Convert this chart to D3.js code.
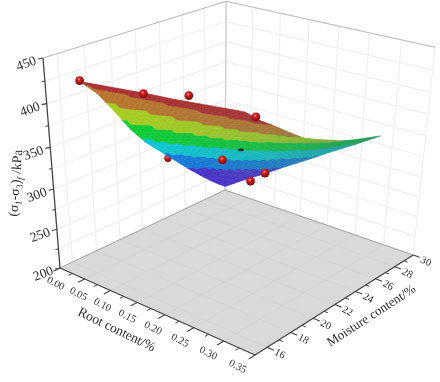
<!DOCTYPE html>
<html>
<head>
<meta charset="utf-8">
<script src="https://cdn.jsdelivr.net/npm/d3@7"></script>
<style>
    body { margin: 0; background: #fff; }
    svg { display: block; filter: blur(0.55px); }
    text { font-family: "Liberation Serif", serif; fill: #2c2c2c; }
</style>
</head>
<body>
<div id="chart"></div>
<script>
// Surface grid
let rootContent = [0, 0.04, 0.08, 0.12, 0.16, 0.20, 0.24, 0.28];
let moistureContent = [17.5, 18.75, 20, 21.25, 22.5, 23.75, 25, 26.25, 27.5, 28.75, 30];
let strength = [
    [412, 392, 365, 336, 312, 293, 274, 255, 237, 220, 205],
    [415, 395, 370, 344, 321, 304, 286, 269, 252, 237, 224],
    [418, 399, 376, 351, 330, 314, 298, 282, 268, 254, 242],
    [421, 402, 381, 359, 339, 325, 310, 296, 283, 271, 261],
    [423, 406, 387, 366, 349, 335, 323, 310, 299, 289, 279],
    [426, 409, 392, 374, 358, 346, 335, 324, 314, 306, 298],
    [429, 413, 398, 381, 367, 356, 347, 337, 330, 323, 316],
    [432, 416, 403, 389, 376, 367, 359, 351, 345, 340, 335]
];

// Measured points: in front of the surface, behind it, and poking through it
let frontRoot = [0, 0.058, 0.139, 0.249, 0.095, 0.117, 0.09];
let frontMoisture = [17.5, 20, 20, 20, 25, 28, 28];
let frontStrength = [413, 396, 409, 407, 295, 264, 247];
let behindRoot = [0.044];
let behindMoisture = [22.5];
let behindStrength = [301];
let pokeRoot = [0.129];
let pokeMoisture = [25];
let pokeStrength = [315];

// Ticks
let rootTicks = [0, 0.05, 0.10, 0.15, 0.20, 0.25, 0.30, 0.35];
let moistureTicks = [16, 18, 20, 22, 24, 26, 28, 30];
let strengthTicks = [200, 250, 300, 350, 400, 450];
let strengthGrid = [225, 250, 275, 300, 325, 350, 375, 400, 425, 450];
let rootMinor = [0.025, 0.075, 0.125, 0.175, 0.225, 0.275, 0.325];
let moistureMinor = [17, 19, 21, 23, 25, 27, 29];
let strengthMinor = [225, 275, 325, 375, 425];

// Colour bands
let bandLevels = [258, 289, 319, 349, 377, 405];
let bandColors = ['#4a2fc8', '#1478d8', '#0cc4d0', '#0ccb34', '#a6cc1e', '#b8742c', '#a82f30'];

// Box corners on screen
let corner = {
    origin: [60, 268],
    root: [255, 355],
    moisture: [225, 190],
    height: [43, 58]
};
// Perspective terms
let persp = { root: -0.127, moisture: 0.143, height: -0.1 };

let rootScale = d3.scaleLinear().domain([0, 0.35]).range([0, 1]);
let moistureScale = d3.scaleLinear().domain([15, 30]).range([0, 1]);
let heightScale = d3.scaleLinear().domain([200, 450]).range([0, 1]);
let bandScale = d3.scaleThreshold().domain(bandLevels).range(bandColors);

let svg = d3.select('#chart').append('svg')
    .attr('width', 440)
    .attr('height', 382);

// Axis vectors for the projective map
function axisVector(end, p) {
    return [end[0] * (1 + p) - corner.origin[0], end[1] * (1 + p) - corner.origin[1]];
}
let vecRoot = axisVector(corner.root, persp.root);
let vecMoisture = axisVector(corner.moisture, persp.moisture);
let vecHeight = axisVector(corner.height, persp.height);

function depth(u, v, z) {
    return 1 + persp.root * u + persp.moisture * v + persp.height * z;
}
function project(u, v, z) {
    let w = depth(u, v, z);
    return [
        (corner.origin[0] + u * vecRoot[0] + v * vecMoisture[0] + z * vecHeight[0]) / w,
        (corner.origin[1] + u * vecRoot[1] + v * vecMoisture[1] + z * vecHeight[1]) / w
    ];
}
function pt(root, moisture, value) {
    return project(rootScale(root), moistureScale(moisture), heightScale(value));
}
let line = d3.line();
function drawLine(g, a, b, color, width) {
    g.append('path')
        .attr('d', line([a, b]))
        .attr('fill', 'none')
        .attr('stroke', color)
        .attr('stroke-width', width);
}

// Walls and floor
let walls = svg.append('g');
walls.append('path')
    .attr('d', line([project(0, 0, 0), project(1, 0, 0), project(1, 1, 0), project(0, 1, 0)]) + 'Z')
    .attr('fill', '#d9d9d9');

moistureTicks.forEach(m => {
    let v = moistureScale(m);
    drawLine(walls, project(0, v, 0), project(0, v, 1), '#efefef', 1.2);
    drawLine(walls, project(0, v, 0), project(1, v, 0), '#d2d2d2', 0.8);
});
rootTicks.forEach(r => {
    let u = rootScale(r);
    drawLine(walls, project(u, 1, 0), project(u, 1, 1), '#efefef', 1.2);
    drawLine(walls, project(u, 0, 0), project(u, 1, 0), '#d2d2d2', 0.8);
});
strengthGrid.forEach(s => {
    let z = heightScale(s);
    drawLine(walls, project(0, 0, z), project(0, 1, z), '#efefef', 1.2);
    drawLine(walls, project(0, 1, z), project(1, 1, z), '#efefef', 1.2);
});
drawLine(walls, project(0, 0, 1), project(0, 1, 1), '#bcbcbc', 1);
drawLine(walls, project(0, 1, 1), project(1, 1, 1), '#bcbcbc', 1);
drawLine(walls, project(0, 1, 0), project(0, 1, 1), '#cccccc', 1.2);
drawLine(walls, project(0, 0, 0), project(0, 1, 0), '#a4a4a4', 1);
drawLine(walls, project(0, 1, 0), project(1, 1, 0), '#a4a4a4', 1);

// Axes
let axes = svg.append('g');
let axisColor = '#444';
drawLine(axes, project(0, 0, 0), project(0, 0, 1), axisColor, 1.3);
drawLine(axes, project(0, 0, 0), project(1, 0, 0), axisColor, 1.3);
drawLine(axes, project(1, 0, 0), project(1, 1, 0), axisColor, 1.3);

strengthTicks.forEach(s => {
    let a = project(0, 0, heightScale(s));
    drawLine(axes, a, [a[0] - 5, a[1] + 1], axisColor, 1.1);
});
strengthMinor.forEach(s => {
    let a = project(0, 0, heightScale(s));
    drawLine(axes, a, [a[0] - 3, a[1] + 0.6], axisColor, 1);
});
rootTicks.forEach(r => {
    let a = project(rootScale(r), 0, 0);
    drawLine(axes, a, project(rootScale(r), -0.035, 0), axisColor, 1.1);
});
rootMinor.forEach(r => {
    let a = project(rootScale(r), 0, 0);
    drawLine(axes, a, project(rootScale(r), -0.02, 0), axisColor, 1);
});
moistureTicks.forEach(m => {
    let a = project(1, moistureScale(m), 0);
    drawLine(axes, a, project(1.03, moistureScale(m), 0), axisColor, 1.1);
});
moistureMinor.forEach(m => {
    let a = project(1, moistureScale(m), 0);
    drawLine(axes, a, project(1.017, moistureScale(m), 0), axisColor, 1);
});

// Tick labels
let rootDx = d3.scaleLinear().domain([0, 0.35]).range([-4, -17]);
let rootDy = d3.scaleLinear().domain([0, 0.35]).range([15, 11]);
rootTicks.forEach(r => {
    let a = project(rootScale(r), 0, 0);
    axes.append('text')
        .attr('transform', `translate(${a[0] + rootDx(r)}, ${a[1] + rootDy(r)}) rotate(27)`)
        .attr('text-anchor', 'middle')
        .attr('dy', '0.35em')
        .style('font-size', '10.5px')
        .text(r.toFixed(2));
});
moistureTicks.forEach(m => {
    let a = project(1, moistureScale(m), 0);
    axes.append('text')
        .attr('transform', `translate(${a[0] + 13}, ${a[1] + 6}) rotate(28)`)
        .attr('text-anchor', 'middle')
        .attr('dy', '0.35em')
        .style('font-size', '10.5px')
        .text(m);
});
strengthTicks.forEach(s => {
    let a = project(0, 0, heightScale(s));
    axes.append('text')
        .attr('transform', `translate(${a[0] - 17}, ${a[1] + 5}) rotate(-20)`)
        .attr('text-anchor', 'middle')
        .attr('dy', '0.35em')
        .style('font-size', '13.5px')
        .text(s);
});

// Axis titles
axes.append('text')
    .attr('transform', 'translate(117, 329) rotate(26)')
    .attr('text-anchor', 'middle')
    .attr('dy', '0.35em')
    .style('font-size', '13.5px')
    .text('Root content/%');
axes.append('text')
    .attr('transform', 'translate(371, 315) rotate(-33)')
    .attr('text-anchor', 'middle')
    .attr('dy', '0.35em')
    .style('font-size', '13px')
    .text('Moisture content/%');
let zTitle = axes.append('text')
    .attr('transform', 'translate(15, 183) rotate(-86)')
    .attr('text-anchor', 'middle')
    .attr('dy', '0.35em')
    .style('font-size', '13.5px');
zTitle.append('tspan').text('(σ');
zTitle.append('tspan').attr('dy', 3).style('font-size', '9px').text('1');
zTitle.append('tspan').attr('dy', -3).text('-σ');
zTitle.append('tspan').attr('dy', 3).style('font-size', '9px').text('3');
zTitle.append('tspan').attr('dy', -3).text(')');
zTitle.append('tspan').attr('dy', 3).style('font-size', '9px').style('font-style', 'italic').text('f');
zTitle.append('tspan').attr('dy', -3).text(' /kPa');

// Sphere shading
let defs = svg.append('defs');
let ball = defs.append('radialGradient')
    .attr('id', 'ball')
    .attr('cx', '0.42')
    .attr('cy', '0.36')
    .attr('r', '0.62');
ball.append('stop').attr('offset', '0').attr('stop-color', '#f4a0a0');
ball.append('stop').attr('offset', '0.3').attr('stop-color', '#d42020');
ball.append('stop').attr('offset', '1').attr('stop-color', '#7c0c0c');

function drawBalls(rootArr, moistArr, valueArr, radius) {
    rootArr.forEach((r, i) => {
        let p = pt(r, moistArr[i], valueArr[i]);
        svg.append('circle')
            .attr('cx', p[0])
            .attr('cy', p[1])
            .attr('r', radius)
            .attr('fill', 'url(#ball)');
    });
}
drawBalls(behindRoot, behindMoisture, behindStrength, 3.6);

// Surface: every cell of the grid is split into small flat facets
let facets = [];
let split = 4;
let dull = d3.scaleLinear().domain([0, 1]).range([0, 0.7]);
for (let i = 0; i < rootContent.length - 1; i++) {
    for (let j = 0; j < moistureContent.length - 1; j++) {
        let rootAt = d3.interpolateNumber(rootContent[i], rootContent[i + 1]);
        let moistAt = d3.interpolateNumber(moistureContent[j], moistureContent[j + 1]);
        let low = d3.interpolateNumber(strength[i][j], strength[i][j + 1]);
        let high = d3.interpolateNumber(strength[i + 1][j], strength[i + 1][j + 1]);
        let valueAt = (s, t) => d3.interpolateNumber(low(t), high(t))(s);
        for (let a = 0; a < split; a++) {
            for (let b = 0; b < split; b++) {
                let s0 = a / split, s1 = (a + 1) / split;
                let t0 = b / split, t1 = (b + 1) / split;
                let mid = valueAt((s0 + s1) / 2, (t0 + t1) / 2);
                let rf = rootAt((s0 + s1) / 2) / d3.max(rootContent);
                let vf = (moistAt((t0 + t1) / 2) - moistureContent[0]) / (d3.max(moistureContent) - moistureContent[0]);
                facets.push({
                    poly: [
                        pt(rootAt(s0), moistAt(t0), valueAt(s0, t0)),
                        pt(rootAt(s1), moistAt(t0), valueAt(s1, t0)),
                        pt(rootAt(s1), moistAt(t1), valueAt(s1, t1)),
                        pt(rootAt(s0), moistAt(t1), valueAt(s0, t1))
                    ],
                    order: depth(rootScale(rootAt(s0)), moistureScale(moistAt(t0)), heightScale(mid)),
                    color: d3.interpolateRgb(bandScale(mid), '#3c7f7c')(dull(rf * vf))
                });
            }
        }
    }
}
facets.sort((a, b) => d3.descending(a.order, b.order));
svg.append('g').selectAll('path')
    .data(facets).enter()
    .append('path')
    .attr('d', d => line(d.poly) + 'Z')
    .attr('fill', d => d.color)
    .attr('stroke', d => d.color)
    .attr('stroke-width', 0.5)
    .attr('stroke-linejoin', 'round');

// Points in front of the surface
drawBalls(frontRoot, frontMoisture, frontStrength, 4.4);

// Point that only just comes through the surface
pokeRoot.forEach((r, i) => {
    let p = pt(r, pokeMoisture[i], pokeStrength[i]);
    svg.append('ellipse')
        .attr('cx', p[0])
        .attr('cy', p[1])
        .attr('rx', 3)
        .attr('ry', 1.3)
        .attr('fill', '#33261c');
});
</script>
</body>
</html>
